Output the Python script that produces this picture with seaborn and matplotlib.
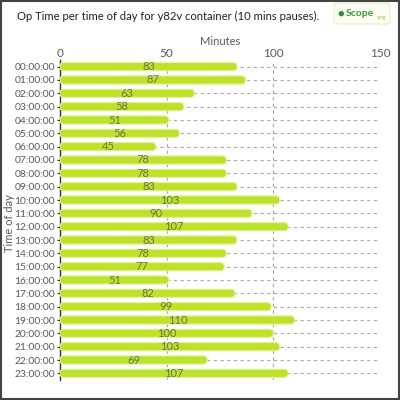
import matplotlib

matplotlib.use("Agg")

import matplotlib.pyplot as plt
import numpy as np
import pandas as pd
import seaborn as sns
from matplotlib.patches import FancyBboxPatch, Rectangle

# --- data -------------------------------------------------------------------
hours = [f"{h:02d}:00:00" for h in range(24)]
minutes = [83, 87, 63, 58, 51, 56, 45, 78, 78, 83, 103, 90,
           107, 83, 78, 77, 51, 82, 99, 110, 100, 103, 69, 107]
x_ticks = [0, 50, 100, 150]

title = "Op Time per time of day for y82v container (10 mins pauses)."

df = pd.DataFrame({"hour": hours, "minutes": minutes})

# --- style ------------------------------------------------------------------
sns.set_style("white")
plt.rcParams["font.family"] = ["Lato", "DejaVu Sans"]

bar_color = "#bde22c"
text_gray = "#5a5a5a"

fig = plt.figure(figsize=(4, 4), dpi=100)
ax = fig.add_axes([0.15, 0.05, 0.80, 0.80])

sns.barplot(data=df, x="minutes", y="hour", orient="h", color=bar_color,
            width=0.62, saturation=1, ax=ax, zorder=3)

# rounded bar ends
x_unit_px = 320 / 150
y_unit_px = 320 / 24
for p in list(ax.patches):
    x0, y0 = p.get_x(), p.get_y()
    w, h = p.get_width(), p.get_height()
    rad = (h * y_unit_px / 2) / x_unit_px
    fb = FancyBboxPatch((x0, y0), w, h,
                        boxstyle=f"round,pad=0,rounding_size={rad}",
                        mutation_aspect=x_unit_px / y_unit_px,
                        facecolor=bar_color, edgecolor="#e4f59a",
                        linewidth=0.8, zorder=3)
    p.remove()
    ax.add_patch(fb)

for i, v in enumerate(minutes):
    ax.text(v / 2, i, str(v), ha="center", va="center", fontsize=8,
            color="#66774a", zorder=4)

ax.set_xlim(0, 150)
ax.set_ylim(23.5, -0.5)
ax.set_xticks(x_ticks)
ax.xaxis.tick_top()
ax.xaxis.set_label_position("top")
ax.set_xlabel("Minutes", color=text_gray, fontsize=8, labelpad=2)
ax.set_ylabel("Time of day", color=text_gray, fontsize=8)
ax.yaxis.set_label_coords(-0.142, 0.49)
ax.tick_params(axis="x", length=0, pad=1, labelsize=8.5, labelcolor=text_gray)
ax.tick_params(axis="y", length=2.5, width=0.8, pad=1, labelsize=7.4,
               labelcolor=text_gray, left=True, color="#333333")

# dashed grid
for xv in x_ticks[1:]:
    ax.axvline(xv, color="#aaaaaa", linestyle=(0, (3, 3)), linewidth=0.8, zorder=1)
for i in range(len(hours)):
    ax.axhline(i, color="#aaaaaa", linestyle=(0, (3, 3)), linewidth=0.8, zorder=1)

for side in ["top", "right", "bottom"]:
    ax.spines[side].set_visible(False)
ax.spines["left"].set_color("#333333")
ax.spines["left"].set_linewidth(1)

# title and logo
fig.text(0.043, 0.958, title, ha="left", va="center", fontsize=8.1,
         color="#222222")
fig.patches.append(FancyBboxPatch((0.835, 0.94), 0.14, 0.052,
                                  boxstyle="round,pad=0,rounding_size=0.008",
                                  transform=fig.transFigure, facecolor="#fbfdf0",
                                  edgecolor="#e8efc8", linewidth=0.8))
fig.text(0.852, 0.966, "\u25cf", ha="center", va="center", fontsize=8,
         color="#2d8a3a")
fig.text(0.864, 0.966, "Scope", ha="left", va="center", fontsize=7.5,
         fontweight="bold", color="#3a9a3a")
fig.text(0.942, 0.956, ".org", ha="left", va="center", fontsize=4,
         color="#8bc34a")

# figure frame
fig.patches.append(Rectangle((0.002, 0.002), 0.996, 0.996,
                             transform=fig.transFigure, fill=False,
                             edgecolor="#444444", linewidth=1.5))

fig.savefig("out.png", dpi=100)
plt.close(fig)
